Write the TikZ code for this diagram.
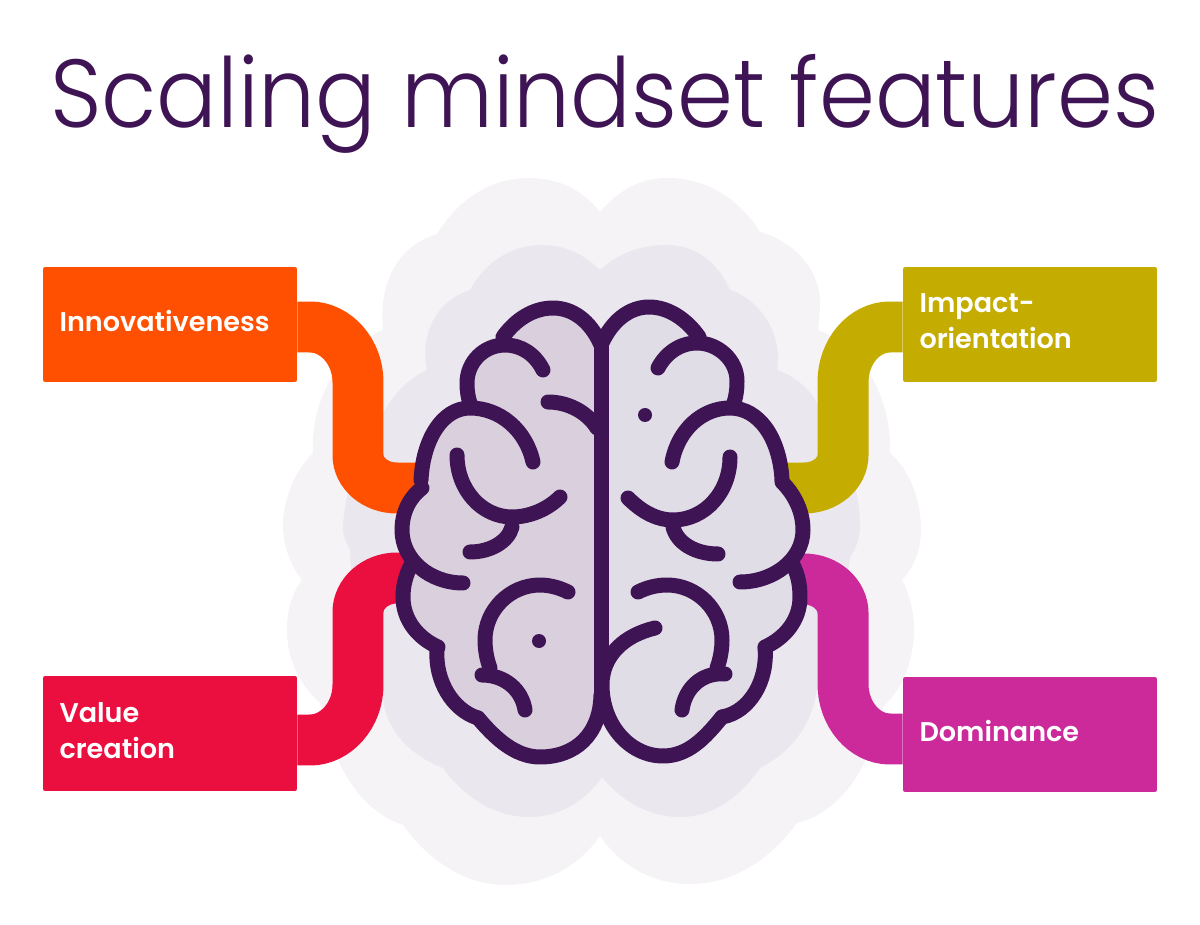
\documentclass[tikz,border=0pt]{standalone}
\usepackage{fontspec}
\usepackage{tikz}
\newfontfamily\TitleFont{Poppins Light}
\newfontfamily\LabelFont{Poppins SemiBold}
\definecolor{ColInk}{RGB}{63,20,84}
\definecolor{ColOrange}{RGB}{254,80,0}
\definecolor{ColRed}{RGB}{234,15,63}
\definecolor{ColOlive}{RGB}{196,173,0}
\definecolor{ColPink}{RGB}{204,42,155}
\definecolor{ColCloudA}{RGB}{245,243,246}
\definecolor{ColCloudB}{RGB}{235,231,238}
\definecolor{ColLobeL}{RGB}{217,207,221}
\definecolor{ColLobeR}{RGB}{225,221,231}
\newcommand{\BoxPad}{\endgraf\vspace{3.6pt}}
\tikzstyle{NodeBox}=[rectangle,rounded corners=1.2pt,minimum width=5.08cm,minimum height=2.3cm,
inner sep=0pt,text width=4.42cm,align=left,text=white,font=\LabelFont\fontsize{15.4}{20.5}\selectfont,
execute at end node=\BoxPad]
\tikzstyle{EdgePipe}=[line width=1.02cm,line cap=butt]
\tikzstyle{BrainLine}=[draw=ColInk,line width=.3cm,line cap=round,line join=round]

\begin{document}
\begin{tikzpicture}[x=.02cm,y=-.02cm]
        \useasboundingbox(0,0)rectangle(1200,925);
        % clouds
        \fill[ColCloudA](600,212)..controls(618,190)and(642,178)..(667,178)..controls(705,178)and(738,197)..(760,232)
            ..controls(795,242)and(820,270)..(820,303)..controls(820,312)and(819,321)..(818,330)
            ..controls(860,345)and(892,395)..(890,453)
            ..controls(910,470)and(921,500)..(921,530)..controls(921,550)and(914,567)..(902,580)
            ..controls(910,595)and(914,612)..(914,630)..controls(914,660)and(902,690)..(883,707)
            ..controls(875,750)and(850,810)..(797,823)
            ..controls(770,860)and(733,884)..(690,884)..controls(652,884)and(620,865)..(600,836)
            ..controls(578,867)and(545,885)..(505,885)..controls(465,885)and(428,860)..(403,825)
            ..controls(365,812)and(335,775)..(320,703)
            ..controls(300,685)and(287,660)..(287,630)..controls(287,610)and(292,593)..(302,580)
            ..controls(290,565)and(283,545)..(283,525)..controls(283,500)and(295,470)..(313,453)
            ..controls(310,400)and(340,350)..(383,330)
            ..controls(378,280)and(400,245)..(437,234)
            ..controls(460,197)and(492,178)..(530,178)..controls(558,178)and(583,190)..(600,212)--cycle;
        \fill[ColCloudB](600,270)..controls(618,253)and(642,245)..(667,245)..controls(695,245)and(718,262)..(730,290)
            ..controls(760,300)and(778,330)..(778,358)..controls(778,362)and(778,366)..(777,370)
            ..controls(800,378)and(815,395)..(820,410)
            ..controls(845,440)and(860,490)..(860,525)..controls(860,540)and(855,550)..(850,557)
            ..controls(845,600)and(830,650)..(818,680)
            ..controls(815,720)and(795,750)..(760,768)
            ..controls(738,800)and(710,817)..(680,817)..controls(650,817)and(622,802)..(602,777)
            ..controls(585,802)and(558,817)..(530,817)..controls(495,817)and(465,798)..(443,768)
            ..controls(410,755)and(385,730)..(383,697)
            ..controls(375,650)and(350,590)..(350,550)
            ..controls(345,540)and(343,535)..(343,530)
            ..controls(343,500)and(360,435)..(385,410)
            ..controls(395,392)and(410,378)..(427,370)
            ..controls(422,350)and(425,305)..(470,290)
            ..controls(485,262)and(512,245)..(542,245)..controls(565,245)and(585,255)..(600,270)--cycle;
        % boxes
        \node[NodeBox,fill=ColOrange](BoxInno)at(170,324.5){Innovativeness};
        \node[NodeBox,fill=ColOlive](BoxImpact)at(1030,324.5){Impact-\\orientation};
        \node[NodeBox,fill=ColRed](BoxValue)at(170,733.5){Value\\creation};
        \node[NodeBox,fill=ColPink](BoxDom)at(1030,734.5){Dominance};
        \coordinate(JoinInno)at(425,488);
        \coordinate(JoinImpact)at(780,488);
        \coordinate(JoinValue)at(420,578);
        \coordinate(JoinDom)at(785,579);
        % pipes
        \draw[EdgePipe,ColOrange]([yshift=-.05cm]BoxInno.east)--(310,327)..controls(336,327)and(358,352)..(358,382)--(358,455)..controls(358,473)and(375,488)..(397,488)--(JoinInno);
        \draw[EdgePipe,ColOlive]([yshift=-.05cm]BoxImpact.west)--(890,327)..controls(864,327)and(843,352)..(843,382)--(843,455)..controls(843,473)and(826,488)..(804,488)--(JoinImpact);
        \draw[EdgePipe,ColRed]([yshift=-.13cm]BoxValue.east)--(310,740)..controls(336,740)and(358,715)..(358,685)--(358,612)..controls(358,594)and(375,578)..(397,578)--(JoinValue);
        \draw[EdgePipe,ColPink]([yshift=-.09cm]BoxDom.west)--(890,739)..controls(864,739)and(843,714)..(843,684)--(843,613)..controls(843,595)and(826,579)..(804,579)--(JoinDom);
        % brain fill
        \fill[ColLobeL](601,345)..controls(590,320)and(572,308)..(553,308)..controls(533,308)and(515,320)..(503,337)
            --(505,345)..controls(484,345)and(467,362)..(467,383)..controls(467,391)and(468,398)..(471,406)
            ..controls(442,408)and(423,440)..(421,480)
            --(422,488)..controls(410,497)and(402,512)..(402,530)..controls(402,545)and(405,555)..(411,565)
            ..controls(406,575)and(403,585)..(403,597)..controls(403,620)and(418,638)..(438,647)
            ..controls(435,680)and(452,710)..(478,718)
            ..controls(495,738)and(515,757)..(540,757)..controls(575,757)and(600,735)..(601,695)--cycle;
        \fill[ColLobeR](601,345)..controls(612,320)and(630,307)..(649,307)..controls(669,307)and(687,320)..(699,337)
            --(697,343)..controls(718,343)and(737,360)..(737,381)..controls(737,390)and(736,397)..(733,406)
            ..controls(760,408)and(780,440)..(782,480)
            ..controls(795,495)and(803,512)..(803,530)..controls(803,545)and(800,555)..(793,565)
            ..controls(798,575)and(800,585)..(800,597)..controls(800,620)and(785,638)..(765,647)
            ..controls(768,680)and(750,712)..(722,717)
            ..controls(705,738)and(688,756)..(663,756)..controls(630,756)and(602,725)..(602,685)--cycle;
        % midline
        \draw[BrainLine,line cap=butt](601,335)--(601,712);
        % left half
        \draw[BrainLine](601,345)..controls(590,320)and(572,308)..(553,308)..controls(533,308)and(515,320)..(503,337);
        \draw[BrainLine](543,370)..controls(535,354)and(521,345)..(505,345)..controls(484,345)and(467,362)..(467,383)..controls(467,391)and(468,398)..(471,406);
        \draw[BrainLine](533,462)..controls(526,430)and(500,408)..(470,408)..controls(442,408)and(423,440)..(421,480);
        \draw[BrainLine](422,488)..controls(410,497)and(402,512)..(402,530)..controls(402,560)and(430,583)..(463,583);
        \draw[BrainLine](411,565)..controls(406,575)and(403,585)..(403,597)..controls(403,620)and(418,638)..(438,647);
        \draw[BrainLine](437,650)..controls(435,680)and(452,710)..(478,718);
        \draw[BrainLine](478,718)..controls(495,738)and(515,757)..(540,757)..controls(575,757)and(600,735)..(601,695);
        \draw[BrainLine](548,402)..controls(568,402)and(587,412)..(597,428);
        \draw[BrainLine](457,455)..controls(457,490)and(482,517)..(512,517)..controls(530,517)and(548,509)..(560,497);
        \draw[BrainLine](512,527)..controls(508,542)and(490,552)..(470,552);
        \draw[BrainLine](568,592)..controls(558,587)and(548,585)..(540,585)..controls(510,585)and(485,610)..(485,640)..controls(485,650)and(487,660)..(490,668);
        \draw[BrainLine](482,675)..controls(505,675)and(522,690)..(525,710);
        \fill[ColInk](539,641)circle(7);
        % right half
        \draw[BrainLine](601,345)..controls(612,320)and(630,307)..(649,307)..controls(669,307)and(687,320)..(699,337);
        \draw[BrainLine](658,368)..controls(666,353)and(680,343)..(697,343)..controls(718,343)and(737,360)..(737,381)..controls(737,390)and(736,397)..(733,406);
        \draw[BrainLine](672,462)..controls(678,430)and(702,408)..(730,408)..controls(760,408)and(780,440)..(782,480);
        \draw[BrainLine](782,482)..controls(795,495)and(803,512)..(803,530)..controls(803,560)and(773,582)..(740,582);
        \draw[BrainLine](793,565)..controls(798,575)and(800,585)..(800,597)..controls(800,620)and(785,638)..(765,647);
        \draw[BrainLine](765,648)..controls(768,680)and(750,712)..(722,717);
        \draw[BrainLine](655,628)..controls(625,635)and(602,655)..(602,685)..controls(602,725)and(630,756)..(663,756)..controls(688,756)and(705,738)..(722,717);
        \draw[BrainLine](730,457)..controls(730,492)and(705,520)..(673,520)..controls(655,520)and(640,510)..(628,498);
        \draw[BrainLine](673,527)..controls(677,543)and(695,554)..(718,554);
        \draw[BrainLine](638,592)..controls(648,587)and(658,585)..(667,585)..controls(697,585)and(722,610)..(722,640)..controls(722,650)and(720,660)..(717,668);
        \draw[BrainLine](725,674)..controls(702,672)and(685,688)..(682,710);
        \fill[ColInk](645,415)circle(7);
        % title
        \node[anchor=base west,inner sep=0pt,text=ColInk,font=\TitleFont\fontsize{55}{57}\selectfont](Title)at(50,128){\scalebox{.931}[1]{Scaling mindset features}};
    \end{tikzpicture}
\end{document}
